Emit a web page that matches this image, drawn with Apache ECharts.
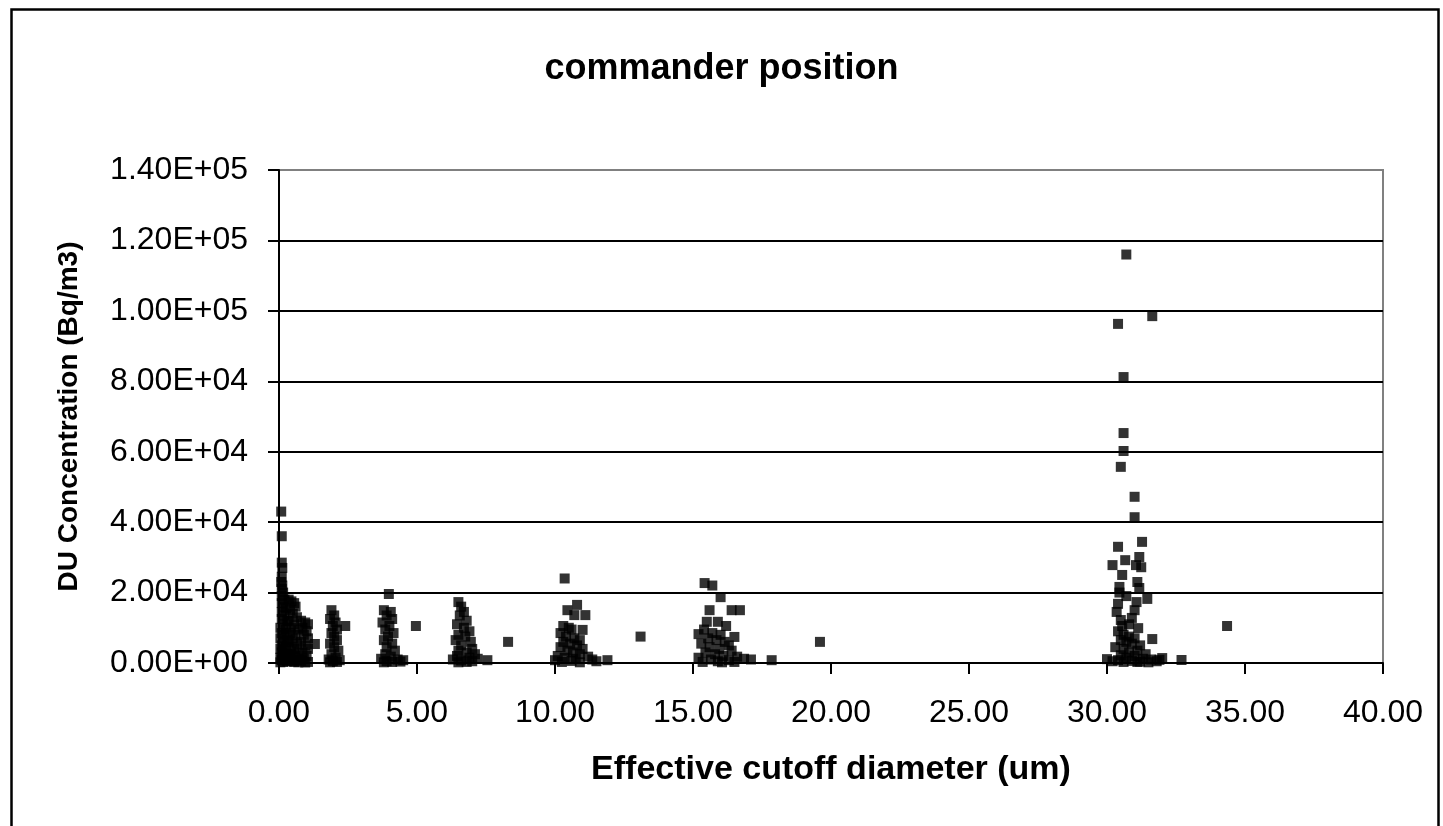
<!DOCTYPE html>
<html><head><meta charset="utf-8">
<script src="https://cdn.jsdelivr.net/npm/echarts@6/dist/echarts.min.js"></script>
<style>html,body{margin:0;padding:0;background:#fff}#c{width:1443px;height:826px}</style>
</head><body><div id="c"></div>
<script>
var title = 'commander position';
var xName = 'Effective cutoff diameter (um)';
var yName = 'DU Concentration (Bq/m3)';
var xTicks = [0, 5, 10, 15, 20, 25, 30, 35, 40];
var yTicks = [0, 20000, 40000, 60000, 80000, 100000, 120000, 140000];

// cutoff diameter (um), DU concentration (Bq/m3)
var group0 = [[0.08,43000],[0.1,36000],[0.1,28500],[0.12,27000],[0.1,24500],[0.08,23000],[0.12,22000],[0.1,21000],[0.15,20000],[0.1,19000],[0.2,18000],[0.1,17000],[0.15,16000],[0.25,15500],[0.1,14500],[0.2,13500],[0.1,12500],[0.3,12000],[0.15,11000],[0.05,10000],[0.25,9500],[0.1,8500],[0.2,8000],[0.05,7000],[0.3,6500],[0.15,6000],[0.1,5000],[0.25,4500],[0.05,4000],[0.2,3500],[0.1,3000],[0.3,2500],[0.15,2000],[0.05,1500],[0.2,1000],[0.1,800],[0.3,500],[0.15,300],[0.05,200]];
var group05 = [[0.35,18000],[0.45,17500],[0.55,17000],[0.6,16000],[0.4,15000],[0.5,14000],[0.65,13000],[0.35,12000],[0.55,11000],[0.45,10000],[0.7,9500],[0.4,8500],[0.6,8000],[0.5,7000],[0.35,6000],[0.65,5500],[0.45,4500],[0.55,4000],[0.7,3000],[0.4,2500],[0.6,2000],[0.5,1500],[0.35,1000],[0.65,800],[0.45,500],[0.55,300],[0.7,200]];
var group1 = [[0.8,12000],[0.95,11500],[1.05,11000],[0.85,10000],[1.0,9000],[0.9,8000],[1.05,7000],[0.8,6000],[0.95,5000],[1.05,4000],[0.85,3000],[1.0,2000],[0.9,1200],[0.8,600],[1.05,300],[0.95,150],[1.3,5400]];
var group2 = [[1.9,15000],[2.0,13500],[1.85,12500],[2.05,11500],[1.95,10500],[2.1,9500],[1.9,8500],[2.0,7500],[2.1,6500],[1.85,5500],[2.0,4500],[2.15,3500],[1.9,2500],[2.05,1500],[1.8,1000],[2.2,800],[1.95,500],[2.1,300],[1.85,200],[2.4,10500]];
var group4 = [[3.98,19600],[3.8,15000],[4.05,14500],[3.9,13500],[4.1,12500],[3.75,11500],[4.0,10500],[3.85,9500],[4.15,8500],[3.95,7500],[3.8,6500],[4.1,5500],[3.9,4500],[4.2,3500],[3.85,2500],[4.05,1800],[3.7,1200],[4.3,1000],[4.5,800],[3.9,500],[4.1,300],[4.4,400],[3.8,200],[4.96,10500]];
var group7 = [[6.5,17300],[6.6,16000],[6.7,14500],[6.55,13500],[6.8,12000],[6.45,11000],[6.7,10000],[6.9,9000],[6.5,8000],[6.75,7500],[6.4,6500],[6.95,6000],[6.6,5000],[7.0,4000],[6.5,3500],[6.8,3000],[7.1,2500],[6.45,2000],[6.9,1500],[7.2,1200],[6.3,1000],[6.6,700],[7.0,500],[6.8,300],[6.5,200],[7.55,800],[8.3,6000]];
var group11 = [[10.35,24000],[10.45,15000],[10.8,16500],[10.7,13600],[11.1,13600],[10.3,10500],[10.5,10000],[10.6,9500],[11.0,9400],[10.2,8500],[10.4,7500],[10.7,7000],[10.9,6500],[10.3,6000],[10.55,5500],[10.8,5000],[10.2,4500],[11.0,4000],[10.45,3500],[10.65,3000],[10.9,2500],[10.1,2000],[11.2,1800],[10.35,1500],[10.75,1200],[11.35,1000],[10.0,800],[10.6,600],[11.5,500],[10.25,300],[10.9,200],[11.9,800],[13.1,7500]];
var group16 = [[15.42,22700],[15.7,22000],[16.0,18700],[15.6,15000],[16.4,15000],[16.7,15000],[15.5,11700],[15.9,11700],[16.2,10500],[15.2,8200],[16.5,7400],[15.4,9500],[15.7,8500],[16.0,8000],[15.55,7000],[15.85,6500],[16.15,6000],[15.3,5500],[16.3,5000],[15.6,4500],[15.95,4000],[16.4,3500],[15.45,3000],[15.8,2500],[16.1,2000],[16.6,1800],[15.2,1500],[16.85,1200],[15.65,1000],[16.3,800],[17.1,1000],[15.9,500],[15.35,300],[16.5,300],[16.05,200],[17.85,800],[19.6,6000]];
var group31 = [[30.7,116000],[30.4,96300],[31.64,98500],[30.6,81200],[30.6,65300],[30.6,60200],[30.5,55700],[31.0,47200],[31.0,41400],[31.27,34400],[30.4,33000],[30.2,27800],[30.66,29200],[31.17,30100],[31.24,27200],[31.05,27800],[30.55,25000],[31.1,23000],[30.45,21600],[31.17,21300],[31.46,18200],[31.07,17300],[30.4,16800],[30.5,12200],[30.9,12800],[31.13,9900],[31.64,6800],[34.35,10500],[32.7,850],[30.0,1100],[32.0,1400],[30.35,14500],[30.8,11000],[30.45,20000],[30.7,19000],[31.0,15000],[30.55,10500],[30.4,9000],[30.6,8000],[30.8,7500],[31.0,7000],[30.5,6500],[30.7,6000],[30.9,5500],[31.2,5000],[30.3,4500],[30.6,4000],[31.1,3500],[30.8,3000],[31.4,2500],[30.5,2200],[31.0,2000],[30.7,1500],[31.3,1200],[31.6,1000],[30.4,800],[30.9,600],[31.2,400],[31.8,500],[30.6,300],[31.5,200],[30.2,500],[31.9,900],[31.1,300]];

var allPoints = [].concat(group0, group05, group1, group2, group4, group7, group11, group16, group31);

function sci(v) {
  if (v === 0) return '0.00E+00';
  var e = Math.floor(Math.log10(Math.abs(v)));
  var m = v / Math.pow(10, e);
  var es = (e < 0 ? '-' : '+') + (Math.abs(e) < 10 ? '0' : '') + Math.abs(e);
  return m.toFixed(2) + 'E' + es;
}

var chart = echarts.init(document.getElementById('c'), null, {renderer: 'canvas'});
var font = "'Liberation Sans', Arial, sans-serif";
chart.setOption({
  animation: false,
  backgroundColor: '#fff',
  title: {
    text: title, left: 'center', top: 46,
    textStyle: {fontFamily: font, fontSize: 36, fontWeight: 'bold', color: '#000'}
  },
  graphic: [{
    type: 'rect', left: 9, top: 7, z: 100,
    shape: {x: 0, y: 0, width: 1427, height: 840},
    style: {fill: 'none', stroke: '#000', lineWidth: 2.5}
  }],
  grid: {left: 279, right: 60, top: 170, bottom: 163, show: true, borderColor: '#808080', borderWidth: 2, backgroundColor: 'transparent'},
  xAxis: {
    type: 'value', min: xTicks[0], max: xTicks[xTicks.length - 1], interval: 5,
    name: xName, nameLocation: 'middle', nameGap: 90,
    nameTextStyle: {fontFamily: font, fontSize: 34, fontWeight: 'bold', color: '#000'},
    axisLine: {show: true, onZero: false, lineStyle: {color: '#000', width: 2}},
    axisTick: {show: true, inside: false, length: 11, lineStyle: {color: '#000', width: 2}},
    axisLabel: {fontFamily: font, fontSize: 32, color: '#000', margin: 34, formatter: function (v) { return v.toFixed(2); }},
    splitLine: {show: false}
  },
  yAxis: {
    type: 'value', min: yTicks[0], max: yTicks[yTicks.length - 1], interval: 20000,
    name: yName, nameLocation: 'middle', nameGap: 196, nameRotate: 90,
    nameTextStyle: {fontFamily: font, fontSize: 28, fontWeight: 'bold', color: '#000'},
    axisLine: {show: true, lineStyle: {color: '#000', width: 2}},
    axisTick: {show: true, inside: false, length: 11, lineStyle: {color: '#000', width: 2}},
    axisLabel: {fontFamily: font, fontSize: 32, color: '#000', margin: 31, formatter: sci},
    splitLine: {show: true, lineStyle: {color: ['#000', '#000', '#000', '#000', '#000', '#000', '#000', '#808080'], width: 2}}
  },
  series: [{
    type: 'scatter', data: allPoints, symbol: 'rect', symbolSize: 10,
    itemStyle: {color: '#000'}
  }]
});
</script></body></html>
